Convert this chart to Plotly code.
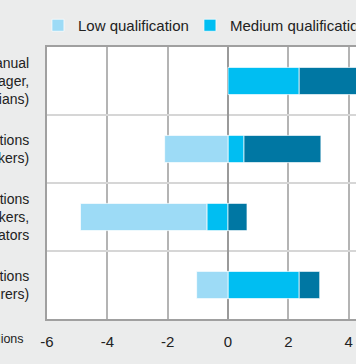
import plotly.graph_objects as go

categories = [
    "Highly skilled non-manual<br>occupations (e.g. manager,<br>professionals, technicians)",
    "Skilled non-manual occupations<br>(e.g. clerks, service workers)",
    "Skilled manual occupations<br>(e.g. craft workers,<br>machine operators",
    "Elementary occupations<br>(e.g. labourers)",
]
low_qualification = [0.0, -2.10, -4.19, -1.04]
medium_qualification = [2.36, 0.53, -0.70, 2.36]
high_qualification = [2.60, 2.55, 0.63, 0.68]
x_tick_values = [-6, -4, -2, 0, 2, 4, 6, 8, 10, 12]
x_tick_labels = ["-6", "-4", "-2", "0", "2", "4", "6", "8", "10", "12"]
unit_label = "In millions"

FONT = "Liberation Sans, Arial, sans-serif"
C_LOW = "#9ddbf6"
C_MED = "#00bef2"
C_HIGH = "#0077a3"
EDGE = dict(color="rgba(255,255,255,0.7)", width=1)

fig = go.Figure()
# medium first so it stacks adjacent to zero on both sides
fig.add_trace(go.Bar(y=categories, x=medium_qualification, orientation="h",
                     name="Medium qualification", marker=dict(color=C_MED, line=EDGE),
                     legendrank=2))
fig.add_trace(go.Bar(y=categories, x=high_qualification, orientation="h",
                     name="High qualification", marker=dict(color=C_HIGH, line=EDGE),
                     legendrank=3))
fig.add_trace(go.Bar(y=categories, x=low_qualification, orientation="h",
                     name="Low qualification", marker=dict(color=C_LOW, line=EDGE),
                     legendrank=1))

UNIT_PX = 30.15
XMIN, XMAX = -6, 12
W, H = 700, 364
L, T, B = 47, 47, 45
PW = (XMAX - XMIN) * UNIT_PX
PH = H - T - B
fig.update_layout(
    template="none",
    width=W, height=H,
    margin=dict(l=L, r=W - L - PW, t=T, b=B, pad=0, autoexpand=False),
    paper_bgcolor="#ebecec",
    plot_bgcolor="#ffffff",
    barmode="relative",
    bargap=0.6,
    font=dict(family=FONT, size=14, color="#222222"),
    showlegend=True,
    legend=dict(orientation="h", x=-0.3 / (XMAX - XMIN), xanchor="left",
                y=1.0 + 5 / PH, yanchor="bottom",
                yref="paper", entrywidth=107, entrywidthmode="pixels",
                font=dict(family=FONT, size=15, color="#222222"),
                bgcolor="rgba(0,0,0,0)", traceorder="normal"),
    xaxis=dict(range=[XMIN, XMAX], tickvals=x_tick_values, ticktext=x_tick_labels,
               showgrid=True, gridcolor="#b4b4b4", gridwidth=1.5,
               zeroline=True, zerolinecolor="#9a9a9a", zerolinewidth=2,
               showline=True, linecolor="#a0a0a0", linewidth=2, mirror=True,
               ticks="", ticklabelstandoff=8, automargin=False,
               tickfont=dict(family=FONT, size=15, color="#222222")),
    yaxis=dict(autorange="reversed", tickson="boundaries",
               showgrid=True, gridcolor="#d6d6d6", gridwidth=2,
               showline=True, linecolor="#a0a0a0", linewidth=2, mirror=True,
               ticks="", ticklabelstandoff=13, automargin=False,
               tickfont=dict(family=FONT, size=14, color="#222222")),
    annotations=[dict(text=unit_label, xref="paper", yref="paper",
                      x=(26 - L) / PW, y=-(339 - (H - B)) / PH,
                      xanchor="right", yanchor="middle", showarrow=False,
                      font=dict(family=FONT, size=12.5, color="#222222"))],
)

fig.write_html("out.html", config={"displayModeBar": False},
               post_script="document.body.style.margin='0';document.body.style.overflow='hidden';document.documentElement.style.overflow='hidden';")
